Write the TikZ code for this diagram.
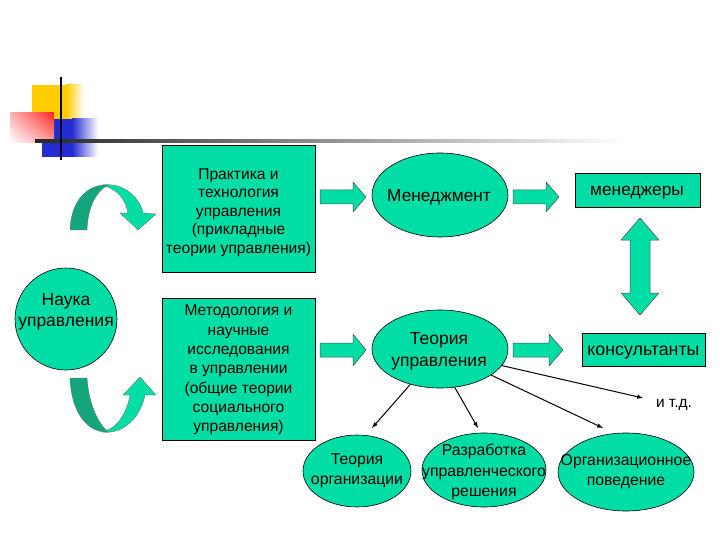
\documentclass[tikz,border=0pt]{standalone}
\usepackage{fontspec}
\setmainfont{Liberation Sans}
\usetikzlibrary{shapes.geometric,shadings}
\definecolor{tealfill}{RGB}{0,222,165}
\definecolor{tealdark}{RGB}{20,165,125}
\definecolor{decoyellow}{RGB}{255,204,0}
\definecolor{decored}{RGB}{255,40,40}
\definecolor{decoblue}{RGB}{35,45,210}
\tikzset{
  box/.style={draw=black, fill=tealfill, line width=0.6pt, inner sep=0pt},
  oval/.style={ellipse, draw=black, fill=tealfill, line width=0.6pt, inner sep=0pt},
  txt/.style={inner sep=0pt, align=center},
  fatarr/.style={fill=tealfill, draw=black!70, line width=0.5pt},
  thinarr/.style={-latex, line width=1pt, black},
  ribbondark/.style={fill=tealdark, draw=black!60, line width=0.3pt},
  ribbonlight/.style={fill=tealfill, draw=black!60, line width=0.3pt},
}
\begin{document}
\begin{tikzpicture}[x=1pt,y=-1pt]
\useasboundingbox (0,0) rectangle (720,540);
% decoration
\fill[decoyellow] (32,85) rectangle (66,125);
\shade[left color=decoyellow, right color=white] (66,85) rectangle (84,125);
\fill[decoblue] (42,119) rectangle (72,157);
\shade[left color=decoblue, right color=white] (72,119) rectangle (98,157);
\shade[upper left=decored!35, upper right=decored, lower left=white, lower right=decored!45] (10,113) rectangle (54,143);
\shade[left color=black!85, right color=white] (35,139.8) rectangle (625,142.4);
\fill[black!85!blue] (59.8,77) rectangle (62.4,160);
% boxes
\node[box, minimum width=153pt, minimum height=127pt] (prak) at (238.5,208.5) {};
\node[txt, font=\fontsize{15.6}{18.6}\selectfont] (prak-t) at (238.5,212.5)
  {Практика и\\технология\\управления\\(прикладные\\теории управления)};
\node[box, minimum width=153pt, minimum height=142pt] (metod) at (238.5,369) {};
\node[txt, font=\fontsize{15.6}{19.3}\selectfont] (metod-t) at (238.5,370)
  {Методология и\\научные\\исследования\\в управлении\\(общие теории\\социального\\управления)};
\node[circle, draw=black, fill=tealfill, line width=0.6pt, minimum size=102pt, inner sep=0pt] (nauka) at (66,319) {};
\node[txt, font=\fontsize{17.5}{21.5}\selectfont] (nauka-t) at (66,312) {Наука\\управления};
\node[oval, minimum width=136pt, minimum height=84pt] (menedzh) at (440,195) {};
\node[txt, font=\fontsize{17.3}{21}\selectfont] (menedzh-t) at (439,197) {Менеджмент};
\node[oval, minimum width=136pt, minimum height=78pt] (teor) at (440,349) {};
\node[txt, font=\fontsize{17.5}{22}\selectfont] (teor-t) at (439,351) {Теория\\управления};
\node[box, minimum width=125pt, minimum height=34pt] (managers) at (637.5,190) {};
\node[txt, font=\fontsize{17.3}{21}\selectfont] (managers-t) at (637,193) {менеджеры};
\node[box, minimum width=123pt, minimum height=33pt] (consult) at (643.5,349.5) {};
\node[txt, font=\fontsize{17.8}{21}\selectfont] (consult-t) at (643.5,352.5) {консультанты};
\node[oval, minimum width=108pt, minimum height=72pt] (torg) at (357,471) {};
\node[txt, font=\fontsize{15.8}{20}\selectfont] (torg-t) at (357,471) {Теория\\организации};
\node[oval, minimum width=124pt, minimum height=74pt] (razr) at (484,470) {};
\node[txt, font=\fontsize{15.8}{20.5}\selectfont] (razr-t) at (484,472) {Разработка\\управленческого\\решения};
\node[oval, minimum width=136pt, minimum height=78pt] (orgpov) at (626,472) {};
\node[txt, font=\fontsize{15.8}{20}\selectfont] (orgpov-t) at (626,472) {Организационное\\поведение};
\node[txt, font=\fontsize{15.5}{18}\selectfont] (itd) at (674,405) {и т.д.};
% fat arrows
\filldraw[fatarr] (320,190) -- (353,190) -- (353,182) -- (366,197) -- (353,212) -- (353,204) -- (320,204) -- cycle;
\filldraw[fatarr] (513,190) -- (546,190) -- (546,182) -- (559,197) -- (546,212) -- (546,204) -- (513,204) -- cycle;
\filldraw[fatarr] (320,343) -- (353,343) -- (353,334) -- (366,350) -- (353,366) -- (353,357) -- (320,357) -- cycle;
\filldraw[fatarr] (513,343) -- (549,343) -- (549,334) -- (563,350) -- (549,366) -- (549,357) -- (513,357) -- cycle;
\filldraw[fatarr] (640,218) -- (659,240) -- (650,240) -- (650,293) -- (659,293) -- (640,315) -- (621,293) -- (630,293) -- (630,240) -- (621,240) -- cycle;
% curved arrows (upper)
\filldraw[ribbonlight] (102,185) .. controls (124,182) and (140,198) .. (143,213) -- (156,214) -- (138,230) -- (120,213) -- (128,213) .. controls (126,201) and (119,192) .. (110,188) -- cycle;
\filldraw[ribbondark] (70,230) .. controls (71,202) and (86,184) .. (108,185) .. controls (97,191) and (88,205) .. (87,230) -- cycle;
% curved arrows (lower)
\filldraw[ribbonlight] (102,432) .. controls (124,435) and (141,416) .. (145,395) -- (156,395) -- (140,377) -- (123,395) -- (130,395) .. controls (127,412) and (119,424) .. (110,429) -- cycle;
\filldraw[ribbondark] (70,378) .. controls (71,410) and (86,433) .. (108,432) .. controls (98,423) and (89,405) .. (87,378) -- cycle;
% thin arrows
\coordinate (e1) at (643,398);
\coordinate (e2) at (603,428);
\coordinate (e3) at (372,428);
\coordinate (e4) at (478,428);
\draw[thinarr] (teor.-15) -- (e1);
\draw[thinarr] (teor.-27) -- (e2);
\draw[thinarr] (teor.-130) -- (e3);
\draw[thinarr] (teor.-69) -- (e4);
\end{tikzpicture}
\end{document}
